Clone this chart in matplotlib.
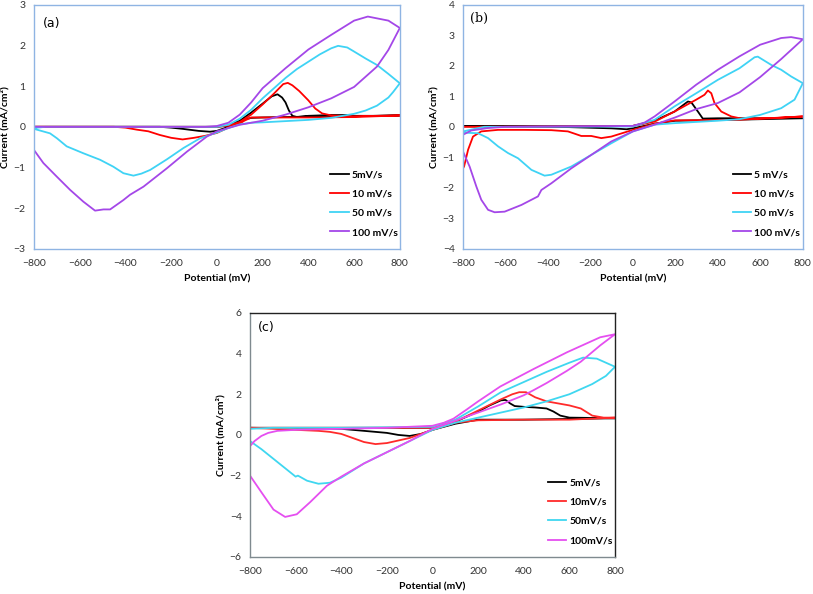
import matplotlib
matplotlib.use("Agg")
import matplotlib.pyplot as plt

plt.rcParams['font.family'] = ['Lato', 'DejaVu Sans']

rates = ['5mV/s', '10 mV/s', '50 mV/s', '100 mV/s']
rates_b = ['5 mV/s', '10 mV/s', '50 mV/s', '100 mV/s']
rates_c = ['5mV/s', '10mV/s', '50mV/s', '100mV/s']
xticks = [-800, -600, -400, -200, 0, 200, 400, 600, 800]

# ---- panel (a) ----
a_5_v = [-800, -300, 0, 50, 100, 150, 200, 240, 265, 285, 300, 315, 330, 350, 400, 500, 580, 600, 700, 800,
         600, 400, 200, 150, 120, 100, 50, 0, -30, -80, -150, -200, -250, -800]
a_5_i = [0, 0, 0, 0.03, 0.15, 0.35, 0.57, 0.75, 0.8, 0.72, 0.6, 0.4, 0.27, 0.24, 0.27, 0.29, 0.29, 0.27, 0.27, 0.28,
         0.26, 0.25, 0.23, 0.22, 0.18, 0.12, 0.0, -0.1, -0.12, -0.1, -0.05, -0.02, 0, 0]

a_10_v = [-800, 0, 50, 100, 150, 200, 250, 290, 310, 330, 360, 400, 430, 460, 500, 600, 800,
          600, 400, 200, 150, 120, 100, 50, 0, -50, -100, -150, -200, -250, -300, -350, -400, -450, -800]
a_10_i = [0, 0, 0.03, 0.12, 0.3, 0.55, 0.82, 1.05, 1.08, 1.02, 0.88, 0.65, 0.45, 0.33, 0.28, 0.26, 0.28,
          0.24, 0.23, 0.23, 0.23, 0.15, 0.08, -0.02, -0.15, -0.22, -0.27, -0.31, -0.27, -0.2, -0.11, -0.07, -0.02, 0, 0]

a_50_v = [-800, -750, 0, 50, 100, 150, 200, 250, 300, 350, 400, 450, 500, 530, 570, 600, 650, 700, 750, 800,
          770, 750, 700, 650, 600, 500, 400, 300, 200, 150, 100, 50, 0, -73, -146, -219, -292, -330, -365,
          -409, -453, -511, -584, -657, -700, -730, -800]
a_50_i = [-0.03, 0, 0, 0.05, 0.2, 0.42, 0.7, 0.95, 1.2, 1.42, 1.6, 1.78, 1.93, 1.99, 1.95, 1.85, 1.68, 1.52, 1.3, 1.07,
          0.85, 0.72, 0.52, 0.4, 0.32, 0.22, 0.17, 0.14, 0.11, 0.1, 0.06, -0.03, -0.14, -0.28, -0.52, -0.8, -1.06,
          -1.15, -1.2, -1.14, -0.98, -0.81, -0.65, -0.48, -0.28, -0.16, -0.05]

a_100_v = [-800, -50, 0, 50, 100, 150, 200, 300, 400, 500, 600, 660, 750, 800,
           750, 700, 600, 500, 400, 300, 200, 100, 0, -44, -131, -219, -321, -380, -409, -467, -496,
           -533, -584, -642, -701, -759, -800]
a_100_i = [0, 0, 0.02, 0.1, 0.3, 0.6, 0.95, 1.44, 1.9, 2.26, 2.61, 2.71, 2.61, 2.43,
           1.89, 1.48, 0.98, 0.7, 0.48, 0.3, 0.15, 0.05, -0.11, -0.24, -0.61, -1.02, -1.47, -1.67, -1.8, -2.03, -2.03,
           -2.06, -1.84, -1.55, -1.22, -0.89, -0.57]

# ---- panel (b) ----
b_5_v = [-800, 0, 102, 196, 259, 275, 306, 329, 400, 800, 400, 200, 100, 0, -30, -100, -200, -300, -800]
b_5_i = [0.02, 0.03, 0.2, 0.5, 0.83, 0.8, 0.5, 0.27, 0.28, 0.28, 0.22, 0.2, 0.1, -0.05, -0.08, -0.05, -0.03, -0.01, 0.02]

b_10_v = [-800, 0, 102, 196, 298, 337, 353, 369, 384, 416, 463, 510, 651, 800,
          494, 196, 102, 0, -102, -149, -196, -243, -306, -384, -510, -635, -714, -753, -776, -795, -800]
b_10_i = [0, 0.03, 0.17, 0.5, 0.89, 1.05, 1.19, 1.1, 0.78, 0.5, 0.34, 0.27, 0.28, 0.34,
          0.23, 0.21, 0.1, -0.1, -0.32, -0.37, -0.3, -0.3, -0.15, -0.11, -0.1, -0.1, -0.15, -0.32, -0.75, -1.3, -1.36]

b_50_v = [-800, -700, 0, 102, 196, 298, 400, 502, 573, 588, 651, 698, 745, 800,
          761, 698, 599, 502, 400, 298, 196, 102, 0, -102, -196, -290, -384, -416, -478, -541, -588, -635,
          -682, -729, -800]
b_50_i = [-0.15, 0, 0.01, 0.23, 0.67, 1.1, 1.54, 1.92, 2.28, 2.3, 2.03, 1.87, 1.65, 1.43,
          0.89, 0.61, 0.39, 0.25, 0.2, 0.16, 0.12, 0.07, -0.15, -0.54, -0.92, -1.3, -1.57, -1.6, -1.41, -1.03, -0.86, -0.64,
          -0.37, -0.21, -0.19]

b_100_v = [-800, -761, -682, -604, 0, 55, 102, 196, 298, 400, 502, 599, 698, 745, 800,
           698, 599, 502, 400, 298, 196, 102, 0, -102, -196, -290, -384, -431, -447, -525, -604, -651,
           -682, -714, -737, -769, -800]
b_100_i = [-0.26, -0.12, -0.04, 0, 0.03, 0.14, 0.34, 0.83, 1.38, 1.87, 2.31, 2.69, 2.91, 2.94, 2.87,
           2.22, 1.63, 1.13, 0.78, 0.58, 0.3, 0.07, -0.15, -0.48, -0.92, -1.36, -1.85, -2.07, -2.28, -2.56, -2.78, -2.8,
           -2.72, -2.39, -1.96, -1.3, -0.81]

# ---- panel (c) ----
c_5_v = [-800, 0, 100, 200, 250, 300, 320, 340, 360, 400, 450, 500, 530, 560, 600, 800,
         400, 200, 100, 0, -50, -100, -150, -200, -300, -400, -800]
c_5_i = [0.35, 0.35, 0.65, 1.15, 1.45, 1.7, 1.72, 1.55, 1.42, 1.38, 1.35, 1.3, 1.15, 0.95, 0.85, 0.82,
         0.75, 0.75, 0.55, 0.25, 0.05, -0.05, 0.0, 0.1, 0.2, 0.3, 0.35]

c_10_v = [-800, 0, 100, 200, 300, 350, 380, 410, 450, 500, 550, 600, 650, 700, 750, 800,
          600, 400, 200, 100, 0, -100, -200, -250, -300, -350, -400, -450, -500, -600, -800]
c_10_i = [0.35, 0.35, 0.65, 1.2, 1.75, 2.0, 2.1, 2.1, 1.85, 1.65, 1.55, 1.45, 1.3, 0.95, 0.85, 0.85,
          0.75, 0.75, 0.72, 0.6, 0.25, -0.15, -0.4, -0.45, -0.35, -0.15, 0.05, 0.15, 0.2, 0.25, 0.35]

c_50_v = [-800, -700, -400, 0, 100, 200, 300, 400, 500, 600, 660, 720, 800,
          760, 700, 600, 500, 400, 300, 200, 100, 0, -100, -200, -300, -350, -400, -450, -500, -550,
          -590, -600, -650, -700, -750, -800]
c_50_i = [0.3, 0.35, 0.35, 0.4, 0.75, 1.4, 2.1, 2.6, 3.1, 3.55, 3.8, 3.75, 3.35,
          2.9, 2.5, 2.0, 1.65, 1.35, 1.1, 0.85, 0.6, 0.25, -0.3, -0.85, -1.4, -1.75, -2.1, -2.35, -2.4, -2.25,
          -2.0, -2.05, -1.6, -1.15, -0.7, -0.3]

c_100_v = [-800, -780, -750, -720, -680, -600, -400, -200, 0, 50, 92, 150, 200, 297, 443, 589, 735, 800,
           735, 650, 589, 500, 443, 400, 300, 200, 100, 0, -100, -200, -300, -400, -463, -536, -595,
           -646, -697, -748, -800]
c_100_i = [-0.55, -0.3, -0.05, 0.1, 0.2, 0.25, 0.3, 0.35, 0.45, 0.6, 0.8, 1.25, 1.65, 2.38, 3.24, 4.06, 4.8, 4.95,
           4.4, 3.6, 3.15, 2.55, 2.2, 1.95, 1.5, 1.1, 0.7, 0.3, -0.3, -0.85, -1.4, -2.05, -2.5, -3.3, -3.9,
           -4.03, -3.67, -2.85, -2.0]

colors_ab = ['black', '#ff0000', '#3fd3f5', '#a447e8']
colors_c = ['black', '#ff2a2a', '#3fd7f0', '#e54ff0']


def draw_panel(ax, curves, labels, colors, ylim, yticks, tag, tagpos, tagfont, spine_cols):
    for (v, i), lab, col in zip(curves, labels, colors):
        ax.plot(v, i, color=col, lw=1.3, label=lab)
    ax.set_xlim(-800, 800)
    ax.set_ylim(*ylim)
    ax.set_xticks(xticks)
    ax.set_yticks(yticks)
    ax.tick_params(length=0, labelsize=7.5, colors='#333333')
    ax.tick_params(axis='x', pad=7)
    ax.tick_params(axis='y', pad=6)
    for side, s in ax.spines.items():
        s.set_color(spine_cols[0] if side in ('left', 'bottom') else spine_cols[1])
        s.set_linewidth(1.0)
    ax.set_xlabel('Potential (mV)', fontsize=7.5, fontweight='bold', labelpad=5)
    ax.set_ylabel('Current (mA/cm²)', fontsize=7.5, fontweight='bold', labelpad=3)
    ax.text(tagpos[0], tagpos[1], tag, transform=ax.transAxes, fontsize=9, family=tagfont, va='center')
    leg = ax.legend(loc='lower right', bbox_to_anchor=(1.02, 0.01), frameon=False, fontsize=7.5,
                    handlelength=1.8, handletextpad=0.3, labelspacing=0.95)
    for t in leg.get_texts():
        t.set_fontweight('bold')


fig = plt.figure(figsize=(8.13, 5.94), dpi=100)
ax_a = fig.add_axes([0.0418, 0.581, 0.450, 0.411])
ax_b = fig.add_axes([0.5695, 0.581, 0.418, 0.411])
ax_c = fig.add_axes([0.3075, 0.0623, 0.449, 0.411])

draw_panel(ax_a, [(a_5_v, a_5_i), (a_10_v, a_10_i), (a_50_v, a_50_i), (a_100_v, a_100_i)],
           rates, colors_ab, (-3, 3), range(-3, 4), '(a)', (0.025, 0.925), 'DejaVu Sans',
           ('#8fb4e3', '#8fb4e3'))
draw_panel(ax_b, [(b_5_v, b_5_i), (b_10_v, b_10_i), (b_50_v, b_50_i), (b_100_v, b_100_i)],
           rates_b, colors_ab, (-4, 4), range(-4, 5), '(b)', (0.02, 0.945), 'DejaVu Serif',
           ('#8fb4e3', '#8fb4e3'))
draw_panel(ax_c, [(c_5_v, c_5_i), (c_10_v, c_10_i), (c_50_v, c_50_i), (c_100_v, c_100_i)],
           rates_c, colors_c, (-6, 6), range(-6, 7, 2), '(c)', (0.022, 0.94), 'DejaVu Sans',
           ('#7f8a8f', '#222222'))

fig.savefig('out.png', dpi=100)
